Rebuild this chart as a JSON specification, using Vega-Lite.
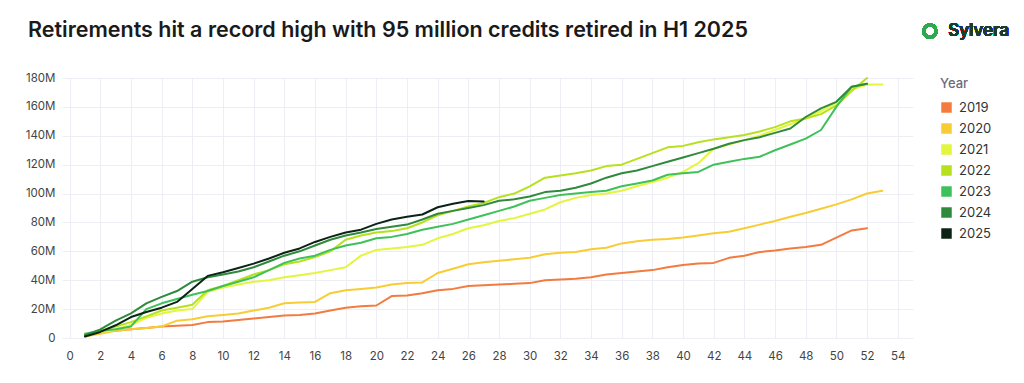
{
  "$schema": "https://vega.github.io/schema/vega-lite/v6.json",
  "autosize": {"type": "none"},
  "width": 851,
  "height": 260,
  "padding": {"left": 62, "top": 78, "right": 111, "bottom": 45},
  "background": "#ffffff",
  "config": {
    "font": "Inter",
    "view": {"stroke": null},
    "axis": {"grid": true, "gridColor": "#eceef3", "gridWidth": 1, "domain": false, "ticks": false, "labelColor": "#444444", "labelFontSize": 11.5, "labelFont": "Inter", "title": null}
  },
  "title": {
    "text": "Retirements hit a record high with 95 million credits retired in H1 2025",
    "anchor": "start",
    "frame": "group",
    "dx": -34,
    "offset": -23,
    "fontSize": 21.5,
    "fontWeight": 600,
    "color": "#1a1a1a",
    "font": "Inter"
  },
  "resolve": {"axis": {"x": "independent", "y": "independent"}},
  "data": {"values": [
    {"year":"2019","week":1,"value":2},{"year":"2019","week":2,"value":5},{"year":"2019","week":3,"value":5},{"year":"2019","week":4,"value":6},{"year":"2019","week":5,"value":7},{"year":"2019","week":6,"value":8},{"year":"2019","week":7,"value":8.5},{"year":"2019","week":8,"value":9},{"year":"2019","week":9,"value":11},{"year":"2019","week":10,"value":11.5},{"year":"2019","week":11,"value":12.5},{"year":"2019","week":12,"value":13.5},{"year":"2019","week":13,"value":14.5},{"year":"2019","week":14,"value":15.5},{"year":"2019","week":15,"value":16},{"year":"2019","week":16,"value":17},{"year":"2019","week":17,"value":19},{"year":"2019","week":18,"value":21},{"year":"2019","week":19,"value":22},{"year":"2019","week":20,"value":22.5},{"year":"2019","week":21,"value":29},{"year":"2019","week":22,"value":29.5},{"year":"2019","week":23,"value":31},{"year":"2019","week":24,"value":33},{"year":"2019","week":25,"value":34},{"year":"2019","week":26,"value":36},{"year":"2019","week":27,"value":36.5},{"year":"2019","week":28,"value":37},{"year":"2019","week":29,"value":37.5},{"year":"2019","week":30,"value":38},{"year":"2019","week":31,"value":40},{"year":"2019","week":32,"value":40.5},{"year":"2019","week":33,"value":41},{"year":"2019","week":34,"value":42},{"year":"2019","week":35,"value":44},{"year":"2019","week":36,"value":45},{"year":"2019","week":37,"value":46},{"year":"2019","week":38,"value":47},{"year":"2019","week":39,"value":49},{"year":"2019","week":40,"value":50.5},{"year":"2019","week":41,"value":51.5},{"year":"2019","week":42,"value":52},{"year":"2019","week":43,"value":55.5},{"year":"2019","week":44,"value":57},{"year":"2019","week":45,"value":59.5},{"year":"2019","week":46,"value":60.5},{"year":"2019","week":47,"value":62},{"year":"2019","week":48,"value":63},{"year":"2019","week":49,"value":64.5},{"year":"2019","week":50,"value":69.5},{"year":"2019","week":51,"value":74.5},{"year":"2019","week":52,"value":76},
    {"year":"2020","week":1,"value":1},{"year":"2020","week":2,"value":3},{"year":"2020","week":3,"value":5},{"year":"2020","week":4,"value":6},{"year":"2020","week":5,"value":7},{"year":"2020","week":6,"value":8},{"year":"2020","week":7,"value":12},{"year":"2020","week":8,"value":13},{"year":"2020","week":9,"value":15},{"year":"2020","week":10,"value":16},{"year":"2020","week":11,"value":17},{"year":"2020","week":12,"value":19},{"year":"2020","week":13,"value":21},{"year":"2020","week":14,"value":24},{"year":"2020","week":15,"value":24.5},{"year":"2020","week":16,"value":25},{"year":"2020","week":17,"value":31},{"year":"2020","week":18,"value":33},{"year":"2020","week":19,"value":34},{"year":"2020","week":20,"value":35},{"year":"2020","week":21,"value":37},{"year":"2020","week":22,"value":38},{"year":"2020","week":23,"value":38.5},{"year":"2020","week":24,"value":45},{"year":"2020","week":25,"value":48},{"year":"2020","week":26,"value":51},{"year":"2020","week":27,"value":52.5},{"year":"2020","week":28,"value":53.5},{"year":"2020","week":29,"value":54.5},{"year":"2020","week":30,"value":55.5},{"year":"2020","week":31,"value":58},{"year":"2020","week":32,"value":59},{"year":"2020","week":33,"value":59.5},{"year":"2020","week":34,"value":61.5},{"year":"2020","week":35,"value":62.5},{"year":"2020","week":36,"value":65.5},{"year":"2020","week":37,"value":67},{"year":"2020","week":38,"value":68},{"year":"2020","week":39,"value":68.5},{"year":"2020","week":40,"value":69.5},{"year":"2020","week":41,"value":71},{"year":"2020","week":42,"value":72.5},{"year":"2020","week":43,"value":73.5},{"year":"2020","week":44,"value":76},{"year":"2020","week":45,"value":78.5},{"year":"2020","week":46,"value":81},{"year":"2020","week":47,"value":84},{"year":"2020","week":48,"value":86.5},{"year":"2020","week":49,"value":89.5},{"year":"2020","week":50,"value":92.5},{"year":"2020","week":51,"value":96},{"year":"2020","week":52,"value":100},{"year":"2020","week":53,"value":102},
    {"year":"2021","week":1,"value":2},{"year":"2021","week":2,"value":4},{"year":"2021","week":3,"value":6},{"year":"2021","week":4,"value":9},{"year":"2021","week":5,"value":14},{"year":"2021","week":6,"value":17},{"year":"2021","week":7,"value":19},{"year":"2021","week":8,"value":20},{"year":"2021","week":9,"value":32},{"year":"2021","week":10,"value":35},{"year":"2021","week":11,"value":37},{"year":"2021","week":12,"value":39},{"year":"2021","week":13,"value":40},{"year":"2021","week":14,"value":42},{"year":"2021","week":15,"value":43.5},{"year":"2021","week":16,"value":45},{"year":"2021","week":17,"value":47},{"year":"2021","week":18,"value":49},{"year":"2021","week":19,"value":57},{"year":"2021","week":20,"value":61},{"year":"2021","week":21,"value":62},{"year":"2021","week":22,"value":63},{"year":"2021","week":23,"value":64.5},{"year":"2021","week":24,"value":69},{"year":"2021","week":25,"value":72},{"year":"2021","week":26,"value":76},{"year":"2021","week":27,"value":78},{"year":"2021","week":28,"value":81},{"year":"2021","week":29,"value":83},{"year":"2021","week":30,"value":86},{"year":"2021","week":31,"value":89},{"year":"2021","week":32,"value":94},{"year":"2021","week":33,"value":97},{"year":"2021","week":34,"value":99},{"year":"2021","week":35,"value":100},{"year":"2021","week":36,"value":102},{"year":"2021","week":37,"value":105},{"year":"2021","week":38,"value":108},{"year":"2021","week":39,"value":111},{"year":"2021","week":40,"value":115},{"year":"2021","week":41,"value":121},{"year":"2021","week":42,"value":131},{"year":"2021","week":43,"value":134},{"year":"2021","week":44,"value":137},{"year":"2021","week":45,"value":140},{"year":"2021","week":46,"value":144},{"year":"2021","week":47,"value":148},{"year":"2021","week":48,"value":152},{"year":"2021","week":49,"value":157},{"year":"2021","week":50,"value":163},{"year":"2021","week":51,"value":172},{"year":"2021","week":52,"value":175.5},{"year":"2021","week":53,"value":175.5},
    {"year":"2022","week":1,"value":2},{"year":"2022","week":2,"value":5},{"year":"2022","week":3,"value":8},{"year":"2022","week":4,"value":11},{"year":"2022","week":5,"value":15},{"year":"2022","week":6,"value":19},{"year":"2022","week":7,"value":21},{"year":"2022","week":8,"value":23},{"year":"2022","week":9,"value":33},{"year":"2022","week":10,"value":36},{"year":"2022","week":11,"value":40},{"year":"2022","week":12,"value":44},{"year":"2022","week":13,"value":47},{"year":"2022","week":14,"value":51},{"year":"2022","week":15,"value":53},{"year":"2022","week":16,"value":56},{"year":"2022","week":17,"value":60},{"year":"2022","week":18,"value":68},{"year":"2022","week":19,"value":71},{"year":"2022","week":20,"value":73},{"year":"2022","week":21,"value":74},{"year":"2022","week":22,"value":76},{"year":"2022","week":23,"value":80},{"year":"2022","week":24,"value":85},{"year":"2022","week":25,"value":88},{"year":"2022","week":26,"value":91},{"year":"2022","week":27,"value":93.5},{"year":"2022","week":28,"value":97.5},{"year":"2022","week":29,"value":100},{"year":"2022","week":30,"value":105},{"year":"2022","week":31,"value":111},{"year":"2022","week":32,"value":112.5},{"year":"2022","week":33,"value":114},{"year":"2022","week":34,"value":116},{"year":"2022","week":35,"value":119},{"year":"2022","week":36,"value":120},{"year":"2022","week":37,"value":124},{"year":"2022","week":38,"value":128},{"year":"2022","week":39,"value":132},{"year":"2022","week":40,"value":133},{"year":"2022","week":41,"value":135.5},{"year":"2022","week":42,"value":137.5},{"year":"2022","week":43,"value":139},{"year":"2022","week":44,"value":140.5},{"year":"2022","week":45,"value":143},{"year":"2022","week":46,"value":146},{"year":"2022","week":47,"value":150},{"year":"2022","week":48,"value":152},{"year":"2022","week":49,"value":155},{"year":"2022","week":50,"value":161},{"year":"2022","week":51,"value":171},{"year":"2022","week":52,"value":180},
    {"year":"2023","week":1,"value":3},{"year":"2023","week":2,"value":5},{"year":"2023","week":3,"value":6},{"year":"2023","week":4,"value":8},{"year":"2023","week":5,"value":20},{"year":"2023","week":6,"value":24},{"year":"2023","week":7,"value":27},{"year":"2023","week":8,"value":30},{"year":"2023","week":9,"value":32.5},{"year":"2023","week":10,"value":36},{"year":"2023","week":11,"value":39},{"year":"2023","week":12,"value":42},{"year":"2023","week":13,"value":47},{"year":"2023","week":14,"value":52},{"year":"2023","week":15,"value":55},{"year":"2023","week":16,"value":57},{"year":"2023","week":17,"value":61},{"year":"2023","week":18,"value":64},{"year":"2023","week":19,"value":66},{"year":"2023","week":20,"value":69},{"year":"2023","week":21,"value":70},{"year":"2023","week":22,"value":72},{"year":"2023","week":23,"value":75},{"year":"2023","week":24,"value":77},{"year":"2023","week":25,"value":79},{"year":"2023","week":26,"value":82},{"year":"2023","week":27,"value":85},{"year":"2023","week":28,"value":88},{"year":"2023","week":29,"value":91},{"year":"2023","week":30,"value":95},{"year":"2023","week":31,"value":97},{"year":"2023","week":32,"value":99},{"year":"2023","week":33,"value":100},{"year":"2023","week":34,"value":101},{"year":"2023","week":35,"value":102},{"year":"2023","week":36,"value":105},{"year":"2023","week":37,"value":107},{"year":"2023","week":38,"value":109},{"year":"2023","week":39,"value":113},{"year":"2023","week":40,"value":114},{"year":"2023","week":41,"value":115},{"year":"2023","week":42,"value":120},{"year":"2023","week":43,"value":122},{"year":"2023","week":44,"value":124},{"year":"2023","week":45,"value":125.5},{"year":"2023","week":46,"value":130},{"year":"2023","week":47,"value":134},{"year":"2023","week":48,"value":138},{"year":"2023","week":49,"value":144},{"year":"2023","week":50,"value":160},{"year":"2023","week":51,"value":174},{"year":"2023","week":52,"value":176},
    {"year":"2024","week":1,"value":2},{"year":"2024","week":2,"value":6},{"year":"2024","week":3,"value":12},{"year":"2024","week":4,"value":17},{"year":"2024","week":5,"value":24},{"year":"2024","week":6,"value":28.5},{"year":"2024","week":7,"value":32.5},{"year":"2024","week":8,"value":39},{"year":"2024","week":9,"value":42},{"year":"2024","week":10,"value":44},{"year":"2024","week":11,"value":46},{"year":"2024","week":12,"value":49},{"year":"2024","week":13,"value":53},{"year":"2024","week":14,"value":57},{"year":"2024","week":15,"value":60},{"year":"2024","week":16,"value":64},{"year":"2024","week":17,"value":68},{"year":"2024","week":18,"value":71},{"year":"2024","week":19,"value":73},{"year":"2024","week":20,"value":75.5},{"year":"2024","week":21,"value":77},{"year":"2024","week":22,"value":78.5},{"year":"2024","week":23,"value":82},{"year":"2024","week":24,"value":86},{"year":"2024","week":25,"value":88},{"year":"2024","week":26,"value":90},{"year":"2024","week":27,"value":92},{"year":"2024","week":28,"value":95},{"year":"2024","week":29,"value":96},{"year":"2024","week":30,"value":98},{"year":"2024","week":31,"value":101},{"year":"2024","week":32,"value":102},{"year":"2024","week":33,"value":104},{"year":"2024","week":34,"value":107},{"year":"2024","week":35,"value":111},{"year":"2024","week":36,"value":114},{"year":"2024","week":37,"value":116},{"year":"2024","week":38,"value":119},{"year":"2024","week":39,"value":122},{"year":"2024","week":40,"value":125},{"year":"2024","week":41,"value":128},{"year":"2024","week":42,"value":131},{"year":"2024","week":43,"value":134.5},{"year":"2024","week":44,"value":137},{"year":"2024","week":45,"value":139},{"year":"2024","week":46,"value":142},{"year":"2024","week":47,"value":145},{"year":"2024","week":48,"value":153},{"year":"2024","week":49,"value":159},{"year":"2024","week":50,"value":163.5},{"year":"2024","week":51,"value":174},{"year":"2024","week":52,"value":176},
    {"year":"2025","week":1,"value":1},{"year":"2025","week":2,"value":4.2},{"year":"2025","week":3,"value":8.8},{"year":"2025","week":4,"value":14.5},{"year":"2025","week":5,"value":18},{"year":"2025","week":6,"value":21},{"year":"2025","week":7,"value":25},{"year":"2025","week":8,"value":34},{"year":"2025","week":9,"value":43},{"year":"2025","week":10,"value":45.5},{"year":"2025","week":11,"value":48.5},{"year":"2025","week":12,"value":51.5},{"year":"2025","week":13,"value":55},{"year":"2025","week":14,"value":59},{"year":"2025","week":15,"value":62},{"year":"2025","week":16,"value":66.5},{"year":"2025","week":17,"value":70},{"year":"2025","week":18,"value":73},{"year":"2025","week":19,"value":75},{"year":"2025","week":20,"value":79},{"year":"2025","week":21,"value":82},{"year":"2025","week":22,"value":84},{"year":"2025","week":23,"value":85.5},{"year":"2025","week":24,"value":90.5},{"year":"2025","week":25,"value":93},{"year":"2025","week":26,"value":94.8},{"year":"2025","week":27,"value":94.5}
  ]},
  "layer": [
    {
      "mark": {"type": "line", "strokeWidth": 2, "strokeJoin": "round", "strokeCap": "round"},
      "encoding": {
        "x": {"field": "week", "type": "quantitative", "scale": {"domain": [-0.5, 55], "nice": false, "zero": false},
              "axis": {"values": [0,2,4,6,8,10,12,14,16,18,20,22,24,26,28,30,32,34,36,38,40,42,44,46,48,50,52,54], "labelPadding": 12}},
        "y": {"field": "value", "type": "quantitative", "scale": {"domain": [0, 180], "nice": false},
              "axis": {"values": [0,20,40,60,80,100,120,140,160,180], "labelPadding": 7, "labelExpr": "datum.value == 0 ? '0' : datum.value + 'M'"}},
        "color": {"field": "year", "type": "nominal",
                  "scale": {"domain": ["2019","2020","2021","2022","2023","2024","2025"], "range": ["#f47b3f","#f8cc34","#e3f53c","#b6e11c","#3fc15a","#2f8a3c","#0b2416"]},
                  "legend": {"title": "Year", "orient": "right", "offset": 27, "padding": 0, "symbolType": "square", "symbolSize": 110, "labelFontSize": 13, "labelColor": "#333333", "labelFont": "Inter", "titleFont": "Inter", "titleFontSize": 13, "titleFontWeight": 500, "titleColor": "#6b6b7b", "titlePadding": 10, "rowPadding": 7, "labelOffset": 6,
                             "encode": {"symbols": {"update": {"fill": {"scale": "color", "field": "value"}, "stroke": {"value": "transparent"}, "strokeWidth": {"value": 0}, "opacity": {"value": 1}}}}}}
      }
    },
    {
      "mark": {"type": "point", "shape": "circle", "filled": false, "stroke": "#2fa84f", "strokeWidth": 3, "size": 150, "clip": false},
      "encoding": {"x": {"datum": 56.1, "axis": null}, "y": {"datum": 212.5, "axis": null}}
    },
    {
      "mark": {"type": "text", "text": "Sylvera", "align": "left", "baseline": "middle", "fontSize": 17, "fontWeight": 500, "color": "#1d3b2a", "font": "Inter", "clip": false},
      "encoding": {"x": {"datum": 57.3, "axis": null}, "y": {"datum": 212.5, "axis": null}}
    }
  ]
}
